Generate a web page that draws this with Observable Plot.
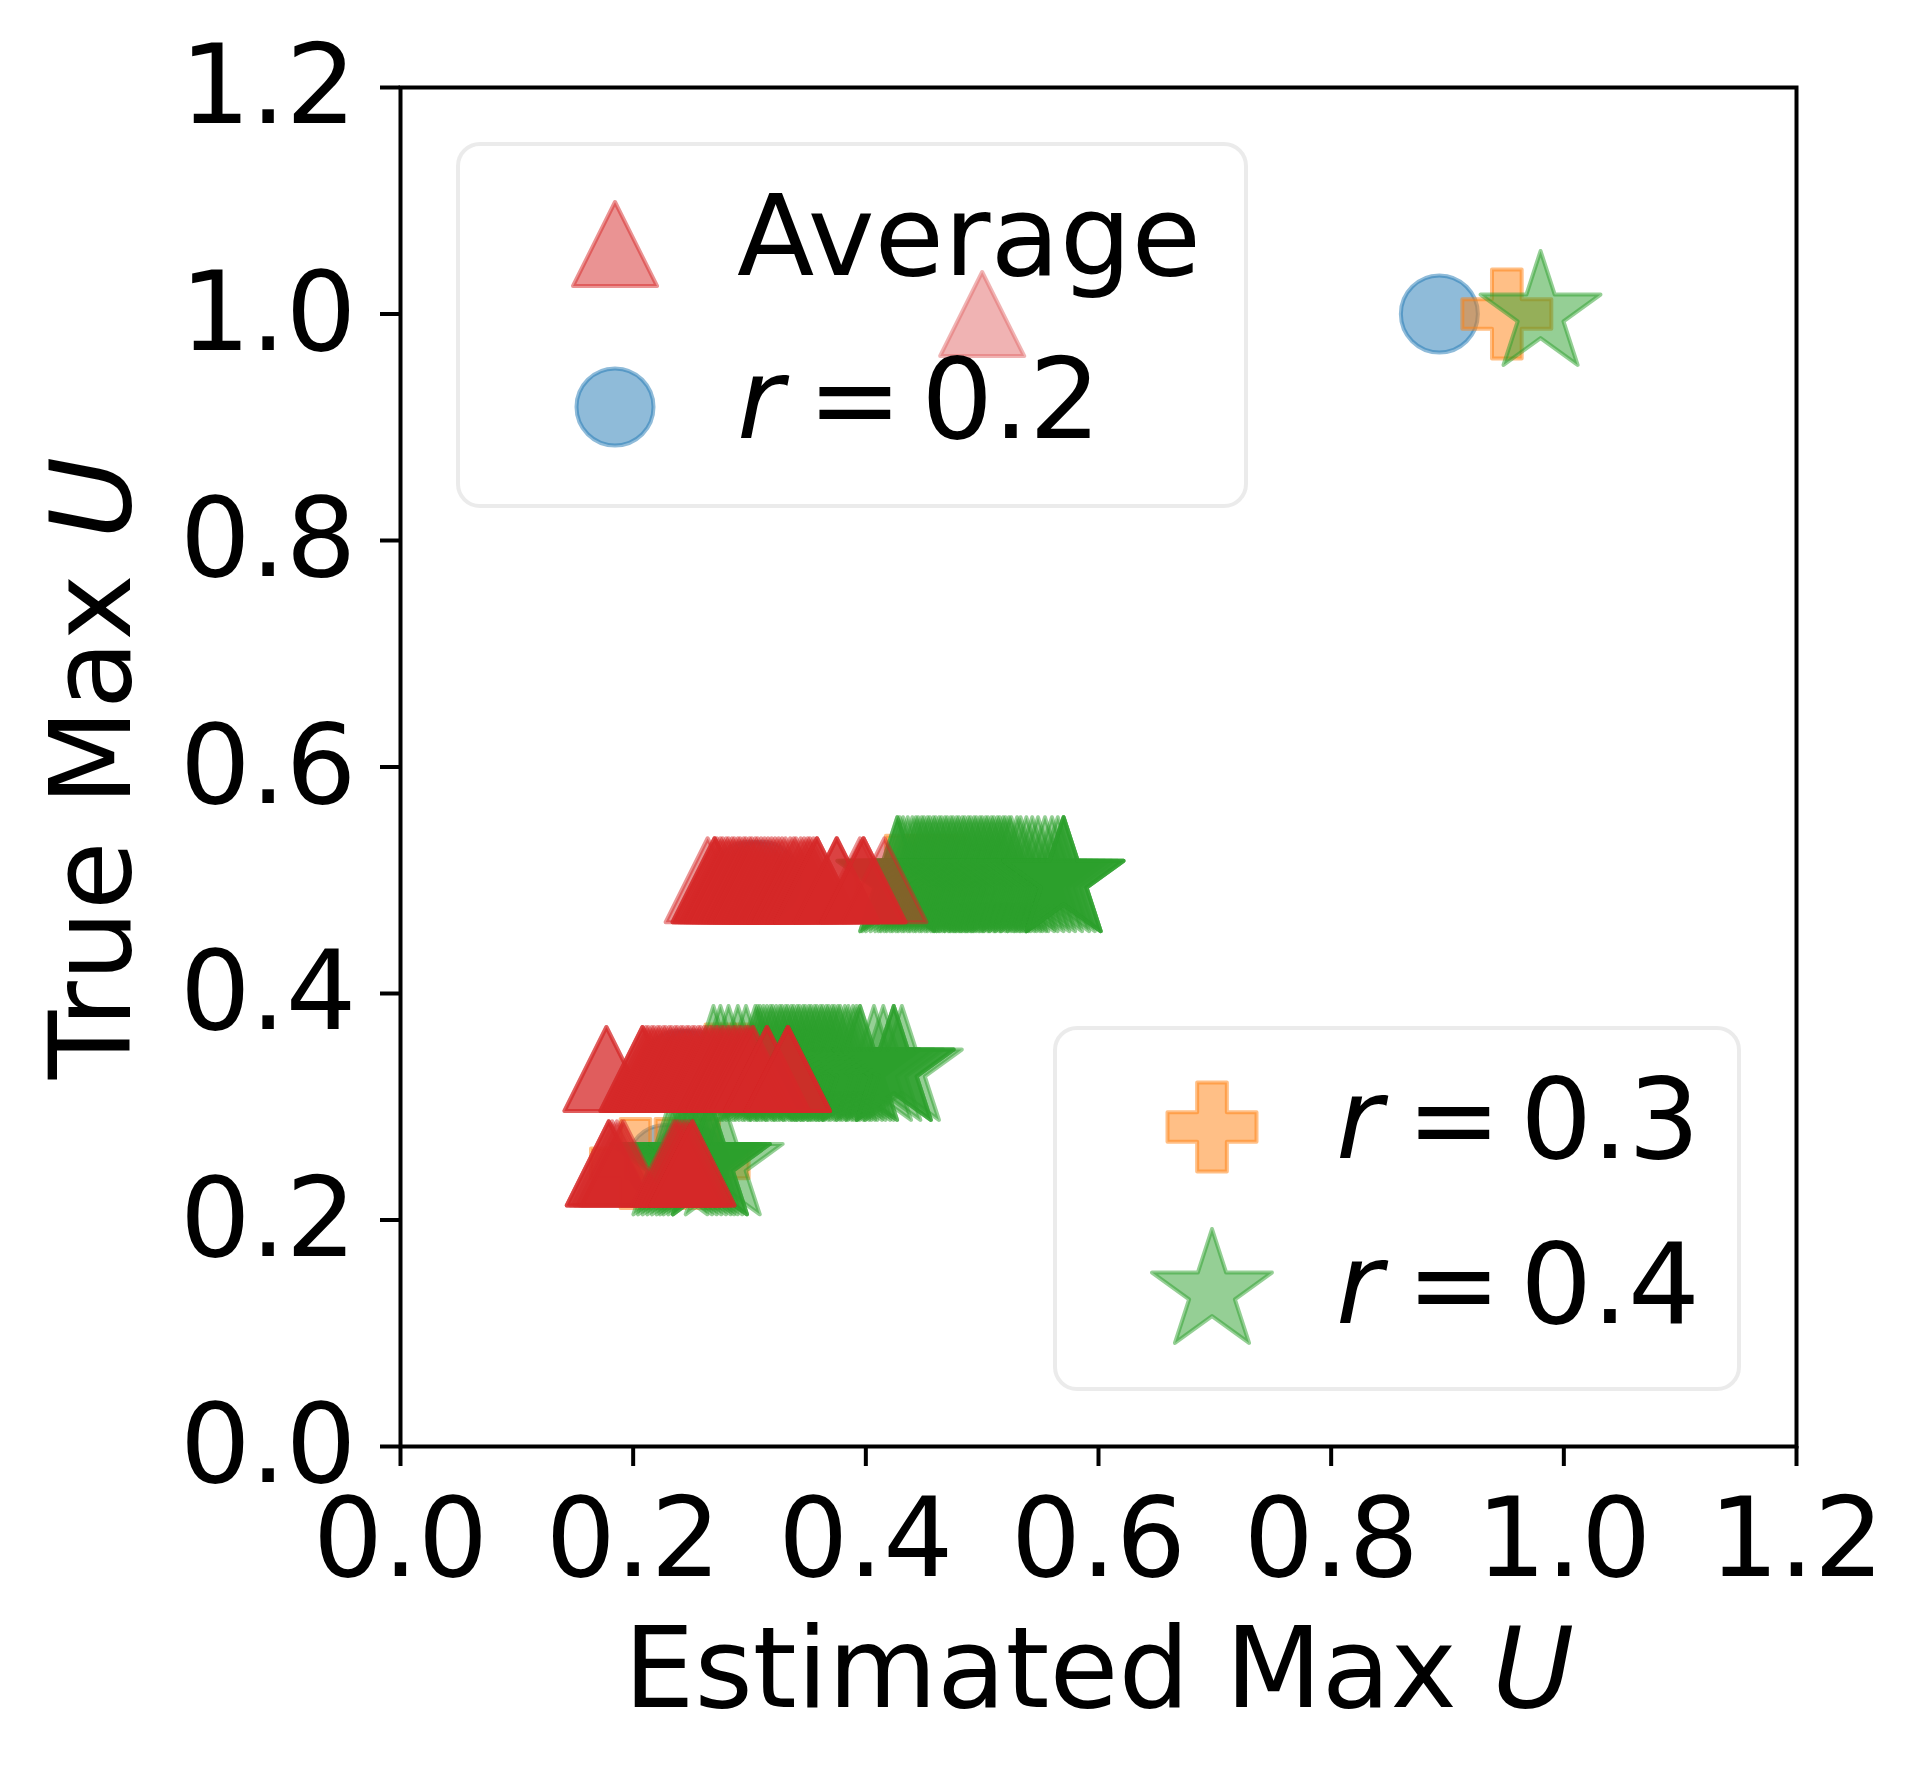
<!DOCTYPE html>
<html>
<head>
<meta charset="utf-8">
<script src="https://cdn.jsdelivr.net/npm/d3@7"></script>
<script src="https://cdn.jsdelivr.net/npm/@observablehq/plot@0.6"></script>
<style>
  html, body { margin: 0; padding: 0; background: #fff; }
  #chart svg { display: block; font-family: "DejaVu Sans", sans-serif; }
</style>
</head>
<body>
<div id="chart"></div>
<script>
// ---------------- DATA ----------------
const seriesNames = ["Average", "r = 0.2", "r = 0.3", "r = 0.4"];
const seriesColors = ["#d62728", "#1f77b4", "#ff7f0e", "#2ca02c"];
const xTicks = [0, 0.2, 0.4, 0.6, 0.8, 1.0, 1.2];
const yTicks = [0, 0.2, 0.4, 0.6, 0.8, 1.0, 1.2];
const trueLevels = [1.0, 0.5, 1 / 3, 0.25];

// Estimated Max U values for each true Max U level
// r = 0.2 (blue circles)
const r02At100 = [0.893];
const r02At050 = [0.30, 0.31];
const r02At033 = [0.24, 0.25];
const r02At025 = [0.228, 0.249];
// r = 0.3 (orange plus)
const r03At100 = [0.951];
const r03At050 = [0.43, 0.445, 0.455, 0.465, 0.473];
const r03At033 = [0.275, 0.30];
const r03At025 = [0.202, 0.232, 0.261];
// r = 0.4 (green stars)
const r04At100 = [0.980];
const r04At050 = [0.427, 0.427, 0.429, 0.432, 0.436, 0.44, 0.443, 0.445, 0.448, 0.45, 0.453, 0.455, 0.458, 0.46,
                  0.463, 0.465, 0.468, 0.47, 0.473, 0.475, 0.478, 0.48, 0.483, 0.485, 0.488, 0.49, 0.493, 0.495,
                  0.498, 0.50, 0.503, 0.505, 0.508, 0.51, 0.513, 0.515, 0.518, 0.52, 0.523, 0.525, 0.53, 0.533,
                  0.538, 0.543, 0.548, 0.554, 0.56, 0.565, 0.57, 0.57, 0.57, 0.57];
const r04At033 = [0.269, 0.275, 0.282, 0.29, 0.297, 0.305, 0.307, 0.309, 0.312, 0.315, 0.318, 0.32, 0.323, 0.326,
                  0.328, 0.331, 0.333, 0.336, 0.338, 0.341, 0.343, 0.346, 0.348, 0.351, 0.353, 0.356, 0.358, 0.361,
                  0.363, 0.366, 0.368, 0.371, 0.373, 0.376, 0.378, 0.382, 0.385, 0.389, 0.392, 0.395, 0.395,
                  0.407, 0.415, 0.424, 0.424, 0.424, 0.431];
const r04At025 = [0.232, 0.236, 0.24, 0.244, 0.248, 0.252, 0.255, 0.258, 0.262, 0.266, 0.266, 0.266, 0.277];
// Average (red triangles)
const avgAt100 = [0.50];
const avgAt050 = [0.264, 0.27, 0.27, 0.27, 0.272, 0.275, 0.277, 0.28, 0.282, 0.285, 0.287, 0.29, 0.292, 0.295,
                  0.297, 0.30, 0.302, 0.305, 0.307, 0.31, 0.313, 0.316, 0.319, 0.322, 0.325, 0.328, 0.331, 0.335,
                  0.338, 0.34, 0.344, 0.347, 0.35, 0.352, 0.355, 0.358, 0.358, 0.358, 0.375, 0.375, 0.375,
                  0.395, 0.398, 0.398, 0.398, 0.416];
const avgAt033 = [0.177, 0.177, 0.208, 0.208, 0.208, 0.211, 0.213, 0.216, 0.218, 0.221, 0.223, 0.226, 0.228, 0.231,
                  0.233, 0.236, 0.238, 0.241, 0.243, 0.246, 0.248, 0.251, 0.253, 0.256, 0.258, 0.261, 0.263, 0.266,
                  0.268, 0.271, 0.273, 0.276, 0.278, 0.281, 0.283, 0.286, 0.288, 0.291, 0.293, 0.296, 0.298, 0.30,
                  0.303, 0.303, 0.315, 0.315, 0.315, 0.333, 0.333, 0.333, 0.333];
const avgAt025 = [0.179, 0.179, 0.179, 0.182, 0.186, 0.19, 0.192, 0.235, 0.237, 0.239, 0.242, 0.245, 0.248, 0.251, 0.251, 0.251];

// ---------------- helpers ----------------
function rowsOf(series, lists) {
  const out = [];
  lists.forEach((arr, i) => arr.forEach(x => out.push({series, x, y: trueLevels[i]})));
  return out;
}
const dataR02 = rowsOf(seriesNames[1], [r02At100, r02At050, r02At033, r02At025]);
const dataR03 = rowsOf(seriesNames[2], [r03At100, r03At050, r03At033, r03At025]);
const dataR04 = rowsOf(seriesNames[3], [r04At100, r04At050, r04At033, r04At025]);
const dataAvg = rowsOf(seriesNames[0], [avgAt100, avgAt050, avgAt033, avgAt025]);

// matplotlib-like marker shapes (size = pi * r^2, r = half marker size)
const half = size => Math.sqrt(size / Math.PI);
const mplTriangle = { draw(c, size) { const r = half(size);
  c.moveTo(0, -r); c.lineTo(r, r); c.lineTo(-r, r); c.closePath(); } };
const mplCircle = { draw(c, size) { const r = half(size);
  c.moveTo(r, 0); c.arc(0, 0, r, 0, 2 * Math.PI); c.closePath(); } };
const mplPlus = { draw(c, size) { const r = half(size), a = r / 3;
  const p = [[-a,-r],[a,-r],[a,-a],[r,-a],[r,a],[a,a],[a,r],[-a,r],[-a,a],[-r,a],[-r,-a],[-a,-a]];
  c.moveTo(p[0][0], p[0][1]); for (let i = 1; i < p.length; i++) c.lineTo(p[i][0], p[i][1]); c.closePath(); } };
const mplStar = { draw(c, size) { const r = half(size), ri = r * 0.381966;
  for (let i = 0; i < 10; i++) { const ang = -Math.PI / 2 + i * Math.PI / 5, rr = i % 2 ? ri : r;
    const x = rr * Math.cos(ang), y = rr * Math.sin(ang); if (i === 0) c.moveTo(x, y); else c.lineTo(x, y); }
  c.closePath(); } };

const R_TRI = 42, R_CIRC = 38.5, R_PLUS = 44.5, R_STAR = 63;
const markStyle = (color) => ({fill: color, stroke: color, fillOpacity: 0.5, strokeOpacity: 0.5,
  strokeWidth: 4, strokeLinejoin: "round"});

const FS = 110, FS_LABEL = 112, FS_LEG = 113;
const plot = Plot.plot({
  width: 1930, height: 1776,
  marginLeft: 400, marginRight: 134, marginTop: 87, marginBottom: 330,
  style: {fontFamily: "DejaVu Sans", fontSize: FS + "px", color: "black", background: "white", overflow: "visible"},
  x: {domain: [0, 1.2]},
  y: {domain: [0, 1.2]},
  marks: [
    Plot.dot(dataR02, {x: "x", y: "y", symbol: mplCircle, r: R_CIRC, ...markStyle(seriesColors[1])}),
    Plot.dot(dataR03, {x: "x", y: "y", symbol: mplPlus, r: R_PLUS, ...markStyle(seriesColors[2])}),
    Plot.dot(dataR04, {x: "x", y: "y", symbol: mplStar, r: R_STAR, ...markStyle(seriesColors[3])}),
    Plot.dot(dataAvg, {x: "x", y: "y", symbol: mplTriangle, r: R_TRI, ...markStyle(seriesColors[0])}),
    Plot.frame({stroke: "black", strokeWidth: 4}),
    Plot.axisX({ticks: xTicks, tickSize: 20, tickPadding: 31, strokeWidth: 4, fontSize: FS,
      tickFormat: d => d.toFixed(1), label: null}),
    Plot.axisY({ticks: yTicks, tickSize: 20, tickPadding: 24, strokeWidth: 4, fontSize: 111,
      tickFormat: d => d.toFixed(1), label: null})
  ]
});
document.getElementById("chart").appendChild(plot);

// ---------------- axis titles & legends ----------------
const svg = d3.select(plot);
const xl = svg.append("text").attr("x", 1099).attr("y", 1707).attr("text-anchor", "middle")
  .attr("font-size", FS_LABEL).attr("fill", "black");
xl.append("tspan").text("Estimated Max ");
xl.append("tspan").attr("font-style", "italic").text("U");

const yl = svg.append("text").attr("transform", "translate(130,768) rotate(-90)").attr("text-anchor", "middle")
  .attr("font-size", FS_LABEL).attr("fill", "black");
yl.append("tspan").text("True Max ");
yl.append("tspan").attr("font-style", "italic").text("U");

function legend(box, entries) {
  const g = svg.append("g").attr("text-anchor", "start");
  g.append("rect").attr("x", box[0]).attr("y", box[1]).attr("width", box[2]).attr("height", box[3])
    .attr("rx", 22).attr("ry", 22)
    .attr("fill", "white").attr("fill-opacity", 0.3)
    .attr("stroke", "#cccccc").attr("stroke-opacity", 0.4).attr("stroke-width", 4);
  entries.forEach(e => {
    g.append("path").attr("transform", `translate(${e.mx},${e.my})`)
      .attr("d", d3.symbol(e.sym, e.r * e.r * Math.PI)())
      .attr("fill", e.color).attr("stroke", e.color).attr("fill-opacity", 0.5).attr("stroke-opacity", 0.5)
      .attr("stroke-width", 4).attr("stroke-linejoin", "round");
    const t = g.append("text").attr("x", e.tx).attr("y", e.ty).attr("font-size", FS_LEG).attr("fill", "black")
      .attr("text-anchor", "start");
    if (e.label.startsWith("r = ")) {
      t.append("tspan").attr("font-style", "italic").text("r");
      t.append("tspan").attr("dx", 24).text("=");
      t.append("tspan").attr("dx", 19).text(e.label.slice(4));
    } else {
      t.text(e.label);
    }
  });
}
legend([458, 144, 788, 362], [
  {sym: mplTriangle, r: R_TRI, color: seriesColors[0], label: seriesNames[0], mx: 615, my: 244, tx: 737, ty: 275},
  {sym: mplCircle, r: R_CIRC, color: seriesColors[1], label: seriesNames[1], mx: 615, my: 407, tx: 737, ty: 438}
]);
legend([1055, 1028, 684, 361], [
  {sym: mplPlus, r: R_PLUS, color: seriesColors[2], label: seriesNames[2], mx: 1212, my: 1127, tx: 1336, ty: 1158},
  {sym: mplStar, r: R_STAR, color: seriesColors[3], label: seriesNames[3], mx: 1212, my: 1292, tx: 1336, ty: 1323}
]);
</script>
</body>
</html>
